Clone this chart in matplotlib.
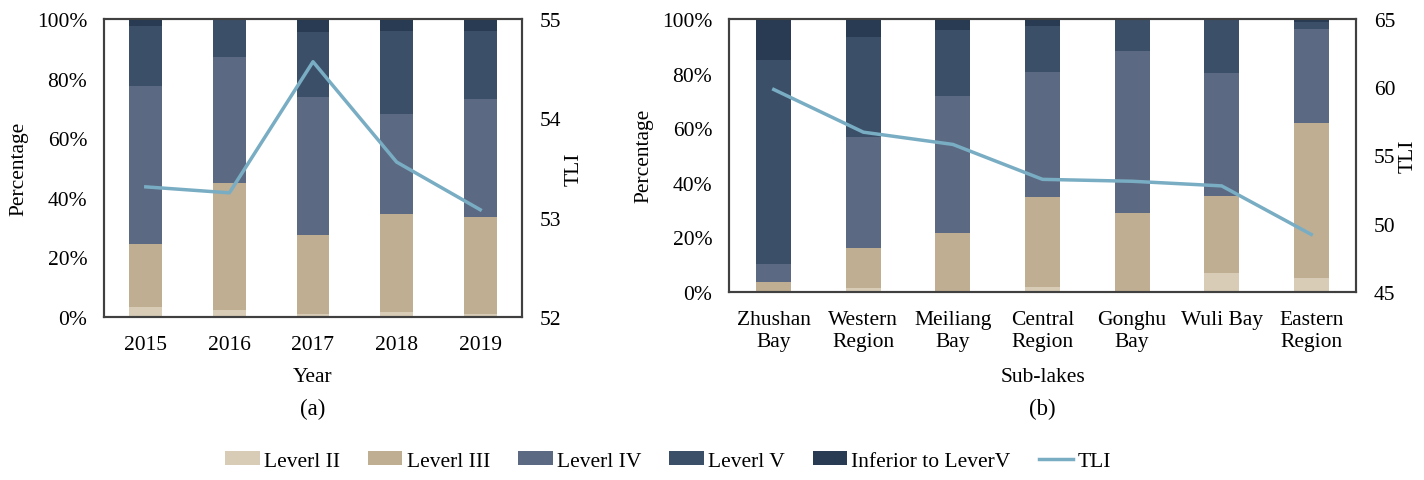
import matplotlib
matplotlib.use("Agg")
import matplotlib.pyplot as plt
from matplotlib.patches import Patch
from matplotlib.lines import Line2D
from matplotlib.ticker import PercentFormatter

plt.rcParams['font.family'] = ['Liberation Serif', 'DejaVu Serif']

# level names and colours
levels = ['Leverl II', 'Leverl III', 'Leverl IV', 'Leverl V', 'Inferior to LeverV']
colors = ['#d8ccb6', '#c0ae92', '#5b6a82', '#3b5068', '#283b52']
tli_color = '#79adc3'

# (a) by year, percentage of each level
years = ['2015', '2016', '2017', '2018', '2019']
year_II = [3.2, 2.5, 0.9, 1.8, 1.1]
year_III = [21.2, 42.6, 26.5, 32.9, 32.6]
year_IV = [53.2, 42.2, 46.3, 33.3, 39.4]
year_V = [20.1, 12.2, 22.1, 28.1, 23.0]
year_inf = [2.3, 0.5, 4.2, 3.9, 3.9]
year_tli = [53.31, 53.25, 54.57, 53.56, 53.08]

# (b) by sub-lake
lakes = ['Zhushan\nBay', 'Western\nRegion', 'Meiliang\nBay', 'Central\nRegion',
         'Gonghu\nBay', 'Wuli Bay', 'Eastern\nRegion']
lake_II = [0.0, 1.2, 0.3, 1.8, 0.0, 6.7, 5.2]
lake_III = [3.4, 14.7, 21.3, 33.0, 28.9, 28.4, 56.5]
lake_IV = [6.7, 40.8, 50.1, 45.7, 59.3, 45.0, 34.6]
lake_V = [74.9, 36.8, 24.4, 17.1, 11.8, 19.9, 2.7]
lake_inf = [15.0, 6.5, 3.9, 2.4, 0.0, 0.0, 1.0]
lake_tli = [59.83, 56.7, 55.8, 53.24, 53.1, 52.76, 49.2]

W, H = 1424, 481
fig = plt.figure(figsize=(W / 100, H / 100), dpi=100)
fs = 15.5
spine_c = '#404040'


def panel(rect, cats, series, tli, tli_lim, tli_ticks, xlabel, xlpad, tli_x):
    ax = fig.add_axes(rect)
    x = list(range(len(cats)))
    bottom = [0.0] * len(cats)
    for vals, c in zip(series, colors):
        ax.bar(x, vals, 0.39, bottom=bottom, color=c, edgecolor='none')
        bottom = [b + v for b, v in zip(bottom, vals)]
    ax.set_xlim(-0.5, len(cats) - 0.5)
    ax.set_ylim(0, 100)
    ax.set_yticks([0, 20, 40, 60, 80, 100])
    ax.yaxis.set_major_formatter(PercentFormatter(decimals=0))
    ax.set_xticks(x)
    ax.set_xticklabels(cats, fontsize=fs, linespacing=1.2)
    ax.tick_params(axis='y', length=0, pad=12, labelsize=fs)
    ax.tick_params(axis='x', length=0, pad=13)
    ax.set_ylabel('Percentage', fontsize=fs, labelpad=6)
    ax.set_xlabel(xlabel, fontsize=fs, labelpad=xlpad)
    for s in ax.spines.values():
        s.set_color(spine_c)
        s.set_linewidth(1.5)

    ax2 = ax.twinx()
    ax2.plot(x, tli, color=tli_color, lw=2.5)
    ax2.set_ylim(*tli_lim)
    ax2.set_yticks(tli_ticks)
    ax2.tick_params(axis='y', length=0, pad=13, labelsize=fs)
    ax2.set_ylabel('TLI', fontsize=fs, rotation=90, va='center', ha='center')
    ax2.yaxis.set_label_coords(tli_x, 0.5)
    for s in ax2.spines.values():
        s.set_color(spine_c)
        s.set_linewidth(1.5)
    return ax


panel([104 / W, 1 - 318 / H, 418 / W, 298 / H], years,
      [year_II, year_III, year_IV, year_V, year_inf], year_tli,
      (52, 55), [52, 53, 54, 55], 'Year', 9, (574 - 104) / 418)
panel([729 / W, 1 - 292.7 / H, 627 / W, 272.7 / H], lakes,
      [lake_II, lake_III, lake_IV, lake_V, lake_inf], lake_tli,
      (45, 65), [45, 50, 55, 60, 65], 'Sub-lakes', 12, (1408 - 729) / 627)

fig.text(313 / W, 1 - 409 / H, '(a)', fontsize=fs + 1, ha='center', va='center')
fig.text(1042 / W, 1 - 409 / H, '(b)', fontsize=fs + 1, ha='center', va='center')

handles = [Patch(facecolor=c, edgecolor='none', label=l) for c, l in zip(colors, levels)]
handles.append(Line2D([0], [0], color=tli_color, lw=2.5, label='TLI'))
fig.legend(handles=handles, loc='center', bbox_to_anchor=(668 / W, 1 - 462 / H),
           ncol=6, frameon=False, fontsize=fs, handlelength=1.6, handleheight=0.6,
           handletextpad=0.2, columnspacing=1.3)

fig.savefig('out.png', dpi=100)
